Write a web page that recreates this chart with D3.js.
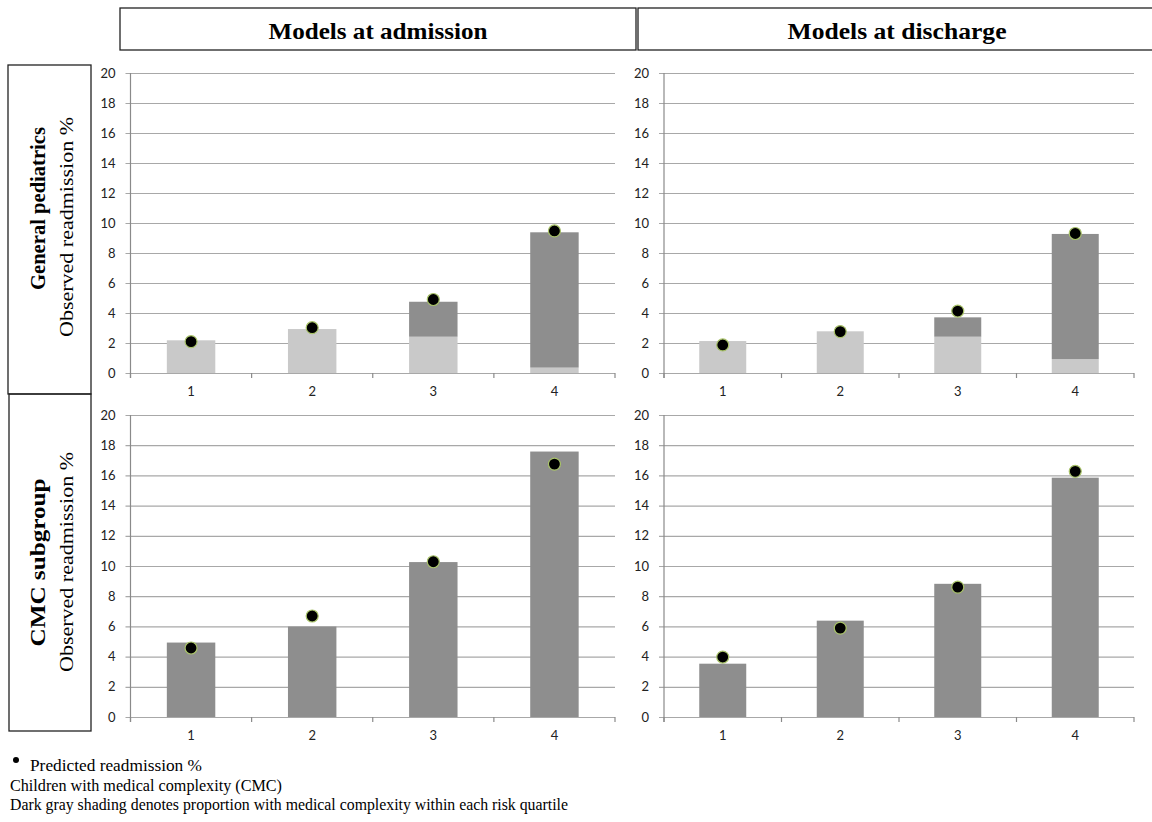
<!DOCTYPE html>
<html>
<head>
<meta charset="utf-8">
<script src="https://cdn.jsdelivr.net/npm/d3@7/dist/d3.min.js"></script>
<style>
  html, body { margin: 0; padding: 0; background: #fff; }
  svg { display: block; }
</style>
</head>
<body>
<svg id="chart" width="1152" height="822"></svg>
<script>
// Risk quartiles
const categories = ["1", "2", "3", "4"];
const yTicks = [0, 2, 4, 6, 8, 10, 12, 14, 16, 18, 20];

// General pediatrics, models at admission (observed %, split non-CMC / CMC)
const admitGeneralNonCmc = [2.18, 2.93, 2.42, 0.36];
const admitGeneralCmc    = [0.00, 0.00, 2.33, 9.02];
const admitGeneralPred   = [2.09, 3.02, 4.90, 9.47];

// General pediatrics, models at discharge
const dischGeneralNonCmc = [2.13, 2.78, 2.42, 0.93];
const dischGeneralCmc    = [0.00, 0.00, 1.29, 8.34];
const dischGeneralPred   = [1.87, 2.76, 4.13, 9.30];

// CMC subgroup, models at admission
const admitCmcObserved = [4.93, 5.99, 10.26, 17.58];
const admitCmcPred     = [4.57, 6.69, 10.28, 16.75];

// CMC subgroup, models at discharge
const dischCmcObserved = [3.53, 6.38, 8.82, 15.85];
const dischCmcPred     = [3.97, 5.89, 8.60, 16.27];

const columnTitles = ["Models at admission", "Models at discharge"];
const rowTitles = ["General pediatrics", "CMC subgroup"];
const rowSubtitle = "Observed readmission %";
const notes = [
  "Predicted readmission %",
  "Children with medical complexity (CMC)",
  "Dark gray shading denotes proportion with medical complexity within each risk quartile"
];

const LIGHT = "#c9c9c9";
const DARK = "#8e8e8e";
const GRID = "#a8a8a8";
const SERIF = "'Liberation Serif', 'Times New Roman', serif";
const SANS = "Lato, 'Open Sans', sans-serif";

const svg = d3.select("#chart");

function panel(box, lower, upper, pred) {
  const g = svg.append("g");
  const x = d3.scaleBand().domain(categories).range([box.x0, box.x1]).padding(0);
  const y = d3.scaleLinear().domain([0, 20]).range([box.yb, box.yt]);

  // horizontal gridlines + y tick labels
  const yAxis = d3.axisLeft(y).tickValues(yTicks).tickSize(-(box.x1 - box.x0 + 5)).tickPadding(10);
  const ya = g.append("g").attr("transform", `translate(${box.x0 - 5},0)`).call(yAxis);
  ya.select(".domain").remove();
  ya.selectAll(".tick line").attr("stroke", GRID).attr("stroke-width", 1.2);
  ya.selectAll(".tick text").attr("font-family", SANS).attr("font-size", 13).attr("fill", "#222");

  // vertical axis line
  g.append("line").attr("x1", box.x0).attr("x2", box.x0)
    .attr("y1", y(20)).attr("y2", y(0) + 5)
    .attr("stroke", "#8a8a8a").attr("stroke-width", 1.2);

  // category boundary ticks
  const bounds = categories.map(c => x(c)).concat([box.x1]);
  g.selectAll(".btick").data(bounds).enter().append("line")
    .attr("x1", d => d).attr("x2", d => d)
    .attr("y1", y(0)).attr("y2", y(0) + 5)
    .attr("stroke", "#8a8a8a").attr("stroke-width", 1.2);

  // category labels
  const xAxis = d3.axisBottom(x).tickSize(0).tickPadding(14);
  const xa = g.append("g").attr("transform", `translate(0,${y(0)})`).call(xAxis);
  xa.select(".domain").remove();
  xa.selectAll(".tick text").attr("font-family", SANS).attr("font-size", 13).attr("fill", "#222");

  // stacked bars: lower segment then upper segment
  const rows = categories.map((c, i) => ({ cat: c, lower: lower ? lower[i] : 0, upper: upper[i] }));
  const stack = d3.stack().keys(["lower", "upper"])(rows);
  const colors = { lower: LIGHT, upper: DARK };
  const bw = x.bandwidth() * 0.4;
  stack.forEach(layer => {
    g.selectAll(null).data(layer).enter().append("rect")
      .attr("x", d => x(d.data.cat) + (x.bandwidth() - bw) / 2)
      .attr("width", bw)
      .attr("y", d => y(d[1]))
      .attr("height", d => Math.max(0, y(d[0]) - y(d[1])))
      .attr("fill", colors[layer.key]);
  });

  // predicted markers
  g.selectAll(".dot").data(pred).enter().append("circle")
    .attr("cx", (d, i) => x(categories[i]) + x.bandwidth() / 2)
    .attr("cy", d => y(d))
    .attr("r", 6)
    .attr("fill", "#000")
    .attr("stroke", "#a9c36a")
    .attr("stroke-width", 1.2);
}

const leftCol = { x0: 130.5, x1: 615 };
const rightCol = { x0: 664, x1: 1134 };
const topRow = { yt: 73, yb: 373 };
const botRow = { yt: 415, yb: 717 };

panel({ ...leftCol, ...topRow }, admitGeneralNonCmc, admitGeneralCmc, admitGeneralPred);
panel({ ...rightCol, ...topRow }, dischGeneralNonCmc, dischGeneralCmc, dischGeneralPred);
panel({ ...leftCol, ...botRow }, null, admitCmcObserved, admitCmcPred);
panel({ ...rightCol, ...botRow }, null, dischCmcObserved, dischCmcPred);

// column header boxes
const headers = [
  { x: 120, w: 516, cx: 378, title: columnTitles[0] },
  { x: 638, w: 520, cx: 897, title: columnTitles[1] }
];
headers.forEach(h => {
  svg.append("rect").attr("x", h.x).attr("y", 8).attr("width", h.w).attr("height", 42)
    .attr("fill", "none").attr("stroke", "#222").attr("stroke-width", 1.3);
  svg.append("text").attr("x", h.cx).attr("y", 39).attr("text-anchor", "middle")
    .attr("font-family", SERIF).attr("font-weight", "bold")
    .attr("font-size", 23.5).attr("textLength", 219).attr("lengthAdjust", "spacingAndGlyphs")
    .text(h.title);
});

// row header boxes
const rowBoxes = [
  { x: 8, y: 65, w: 83, h: 329, title: rowTitles[0], tc: 208.5, tl: 163, sc: 227 },
  { x: 9, y: 394, w: 82, h: 337, title: rowTitles[1], tc: 562.5, tl: 168, sc: 562 }
];
rowBoxes.forEach(r => {
  svg.append("rect").attr("x", r.x).attr("y", r.y).attr("width", r.w).attr("height", r.h)
    .attr("fill", "none").attr("stroke", "#222").attr("stroke-width", 1.3);
  svg.append("text").attr("transform", `translate(45,${r.tc}) rotate(-90)`)
    .attr("text-anchor", "middle")
    .attr("font-family", SERIF).attr("font-weight", "bold")
    .attr("font-size", 22).attr("textLength", r.tl).attr("lengthAdjust", "spacingAndGlyphs")
    .text(r.title);
  svg.append("text").attr("transform", `translate(73,${r.sc}) rotate(-90)`)
    .attr("text-anchor", "middle")
    .attr("font-family", SERIF)
    .attr("font-size", 19).attr("textLength", 220).attr("lengthAdjust", "spacingAndGlyphs")
    .text(rowSubtitle);
});

// footnotes
const noteLines = [
  { x: 30, y: 771, len: 172 },
  { x: 10, y: 791, len: 272 },
  { x: 10, y: 810, len: 558 }
];
svg.append("circle").attr("cx", 16).attr("cy", 760).attr("r", 3).attr("fill", "#000");
noteLines.forEach((n, i) => {
  svg.append("text").attr("x", n.x).attr("y", n.y)
    .attr("font-family", SERIF).attr("font-size", 16)
    .attr("textLength", n.len).attr("lengthAdjust", "spacingAndGlyphs")
    .text(notes[i]);
});
</script>
</body>
</html>
